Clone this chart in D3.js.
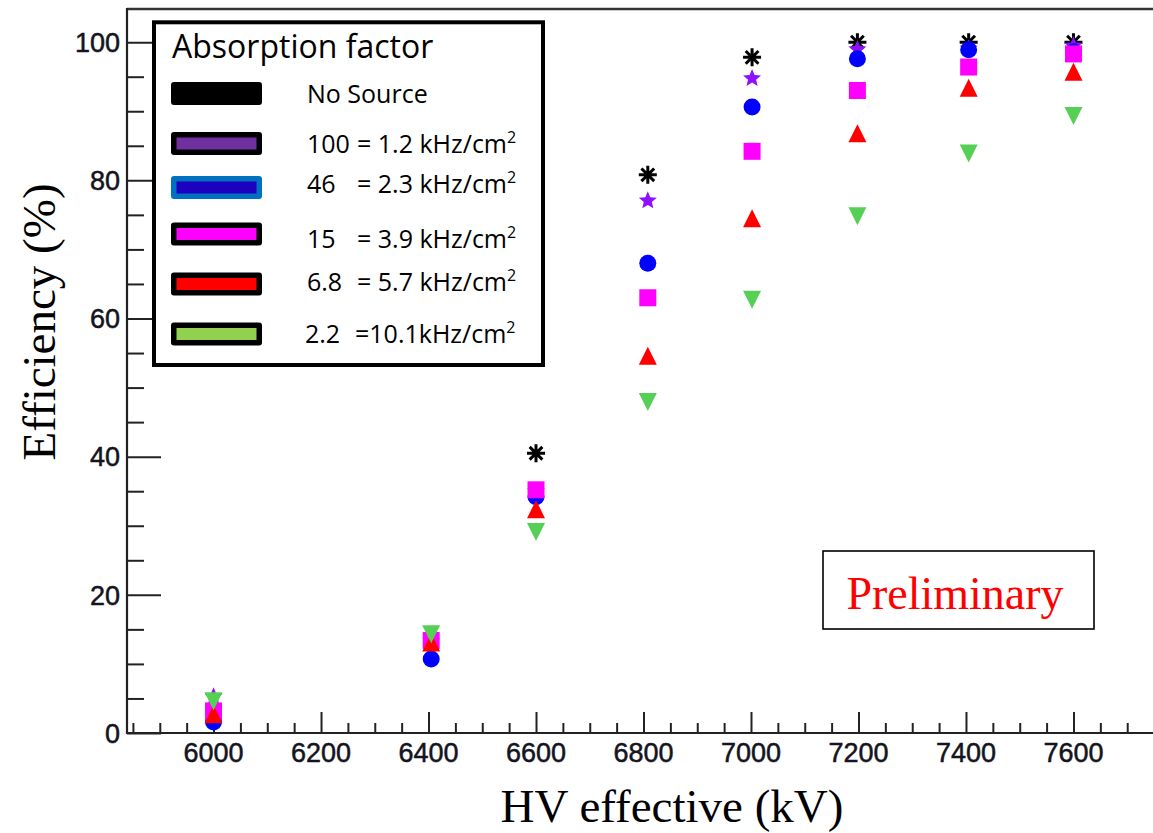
<!DOCTYPE html>
<html>
<head>
<meta charset="utf-8">
<script src="https://cdn.jsdelivr.net/npm/d3@7"></script>
<style>
  html, body { margin: 0; padding: 0; background: #fff; }
  svg { display: block; }
</style>
</head>
<body>
<svg id="chart" width="1153" height="833"></svg>
<script>
// ---------------- DATA ----------------
const hv = [6000, 6405, 6600, 6808, 7002, 7198, 7405, 7600];
const noSource = [null, null, 40.5, 80.8, 97.8, 100.0, 100.0, 100.0];
const abs100   = [5.4, 13.4, 35.1, 77.2, 94.9, 99.1, 99.2, 99.6];
const abs46    = [1.6, 10.7, 34.2, 68.0, 90.6, 97.6, 98.9, 98.6];
const abs15    = [3.2, 13.4, 35.2, 63.0, 84.2, 93.0, 96.4, 98.3];
const abs6p8   = [2.7, 13.1, 32.4, 54.6, 74.5, 86.8, 93.4, 95.7];
const abs2p2   = [4.6, 14.3, 29.1, 47.9, 62.7, 74.8, 83.9, 89.3];

const seriesNames = ["No Source", "100", "46", "15", "6.8", "2.2"];
const seriesRates = [null, "= 1.2 kHz/cm", "= 2.3 kHz/cm", "= 3.9 kHz/cm", "= 5.7 kHz/cm", "=10.1kHz/cm"];
const seriesValues = [noSource, abs100, abs46, abs15, abs6p8, abs2p2];

const xMajorTicks = [6000, 6200, 6400, 6600, 6800, 7000, 7200, 7400, 7600];
const yMajorTicks = [0, 20, 40, 60, 80, 100];

const legendTitle = "Absorption factor";
const xTitle = "HV effective (kV)";
const yTitle = "Efficiency (%)";
const stampText = "Preliminary";

// ---------------- STYLE ----------------
const markerStyle = [
  {type: "asterisk", color: "#000000", size: 18},
  {type: "star",     color: "#8f10ff", size: 18},
  {type: "circle",   color: "#0000ff", size: 17},
  {type: "square",   color: "#ff00ff", size: 17},
  {type: "triUp",    color: "#ff0000", size: 18},
  {type: "triDown",  color: "#55d055", size: 18}
];
const swatchStyle = [
  {fill: "#000000", border: "#000000"},
  {fill: "#7030a0", border: "#000000"},
  {fill: "#1e00c0", border: "#0070c0"},
  {fill: "#ff00ff", border: "#000000"},
  {fill: "#ff0000", border: "#000000"},
  {fill: "#92d050", border: "#000000"}
];
const swatchCY = [93.5, 143.5, 187.5, 234, 284, 334];
const textBaseY = [103, 153, 193, 248, 291, 343];

const svg = d3.select("#chart");

const x = d3.scaleLinear().domain([5839, 7761]).range([127, 1160]);
const y = d3.scaleLinear().domain([0, 104.8]).range([733, 9]);

const axisColor = "#222";

// frame lines
svg.append("line").attr("x1", 127).attr("x2", 1160).attr("y1", 9).attr("y2", 9)
  .attr("stroke", "#333").attr("stroke-width", 2.6);
svg.append("line").attr("x1", 127).attr("x2", 127).attr("y1", 8).attr("y2", 734)
  .attr("stroke", axisColor).attr("stroke-width", 2.2);
svg.append("line").attr("x1", 126).attr("x2", 1160).attr("y1", 733).attr("y2", 733)
  .attr("stroke", axisColor).attr("stroke-width", 2.2);

// x ticks (inside)
const xMinor = d3.range(5850, 7760, 50).filter(v => !xMajorTicks.includes(v));
const gx = svg.append("g").attr("transform", "translate(0,733)")
  .call(d3.axisBottom(x).tickValues(xMajorTicks).tickSize(-21).tickFormat(""));
gx.select(".domain").remove();
gx.selectAll(".tick line").attr("stroke", axisColor).attr("stroke-width", 2);
const gxMin = svg.append("g").attr("transform", "translate(0,733)")
  .call(d3.axisBottom(x).tickValues(xMinor).tickSize(-10).tickFormat(""));
gxMin.select(".domain").remove();
gxMin.selectAll(".tick line").attr("stroke", axisColor).attr("stroke-width", 2);

svg.append("g").selectAll("text").data(xMajorTicks).join("text")
  .attr("x", d => x(d)).attr("y", 762)
  .attr("text-anchor", "middle")
  .attr("font-family", "Liberation Sans, Arial, sans-serif")
  .attr("font-size", 27).attr("fill", "#141420")
  .attr("stroke", "#141420").attr("stroke-width", 0.5)
  .text(d => d);

// y ticks (inside)
const yMinor = d3.range(5, 105, 5).filter(v => !yMajorTicks.includes(v));
const gy = svg.append("g").attr("transform", "translate(127,0)")
  .call(d3.axisLeft(y).tickValues(yMajorTicks).tickSize(-34).tickFormat(""));
gy.select(".domain").remove();
gy.selectAll(".tick line").attr("stroke", axisColor).attr("stroke-width", 2);
const gyMin = svg.append("g").attr("transform", "translate(127,0)")
  .call(d3.axisLeft(y).tickValues(yMinor).tickSize(-17).tickFormat(""));
gyMin.select(".domain").remove();
gyMin.selectAll(".tick line").attr("stroke", axisColor).attr("stroke-width", 2);

svg.append("g").selectAll("text").data(yMajorTicks).join("text")
  .attr("x", 120).attr("y", d => y(d)).attr("dy", "0.36em")
  .attr("text-anchor", "end")
  .attr("font-family", "Liberation Sans, Arial, sans-serif")
  .attr("font-size", 27).attr("fill", "#141420")
  .attr("stroke", "#141420").attr("stroke-width", 0.5)
  .text(d => d);

// axis titles
svg.append("text").attr("x", 672).attr("y", 822).attr("text-anchor", "middle")
  .attr("font-family", "Liberation Serif, Times New Roman, serif")
  .attr("font-size", 47).attr("fill", "#000").text(xTitle);
svg.append("text").attr("transform", "translate(55,322) rotate(-90)").attr("text-anchor", "middle")
  .attr("font-family", "Liberation Serif, Times New Roman, serif")
  .attr("font-size", 47).attr("fill", "#000").text(yTitle);

// marker paths
function markerPath(type, s) {
  const h = s / 2;
  if (type === "circle") return d3.symbol(d3.symbolCircle, Math.PI * h * h)();
  if (type === "square") return `M${-h},${-h}H${h}V${h}H${-h}Z`;
  if (type === "triUp") return `M0,${-h}L${h},${h}L${-h},${h}Z`;
  if (type === "triDown") return `M0,${h}L${h},${-h}L${-h},${-h}Z`;
  if (type === "star") {
    const pts = [];
    for (let i = 0; i < 10; i++) {
      const r = i % 2 === 0 ? h * 1.05 : h * 0.47;
      const a = -Math.PI / 2 + i * Math.PI / 5;
      pts.push([r * Math.cos(a), r * Math.sin(a) + 1]);
    }
    return "M" + pts.map(p => p.join(",")).join("L") + "Z";
  }
  if (type === "asterisk") {
    let p = "";
    for (let i = 0; i < 4; i++) {
      const a = i * Math.PI / 4;
      const dx = h * Math.cos(a), dy = h * Math.sin(a);
      p += `M${-dx},${-dy}L${dx},${dy}`;
    }
    return p;
  }
}

const gm = svg.append("g");
seriesValues.forEach((vals, si) => {
  const st = markerStyle[si];
  const pts = hv.map((h, i) => ({h, v: vals[i]})).filter(d => d.v !== null);
  const g = gm.append("g");
  const sel = g.selectAll("path").data(pts).join("path")
    .attr("transform", d => `translate(${x(d.h)},${y(d.v)})`)
    .attr("d", markerPath(st.type, st.size));
  if (st.type === "asterisk") {
    sel.attr("fill", "none").attr("stroke", st.color).attr("stroke-width", 3);
    g.selectAll("circle").data(pts).join("circle")
      .attr("cx", d => x(d.h)).attr("cy", d => y(d.v)).attr("r", 3.2).attr("fill", st.color);
  } else {
    sel.attr("fill", st.color);
  }
});

// legend
const lg = svg.append("g");
lg.append("rect").attr("x", 154).attr("y", 22.3).attr("width", 389).attr("height", 342.7)
  .attr("fill", "#fff").attr("stroke", "#000").attr("stroke-width", 4);
lg.append("text").attr("x", 172).attr("y", 58)
  .attr("font-family", "Open Sans, sans-serif").attr("font-size", 32).attr("fill", "#000")
  .text(legendTitle);
seriesNames.forEach((name, i) => {
  const cy = swatchCY[i];
  const sw = swatchStyle[i];
  lg.append("rect").attr("x", 171).attr("y", cy - 11.5).attr("width", 91).attr("height", 23)
    .attr("rx", 3).attr("fill", sw.border);
  lg.append("rect").attr("x", 176.5).attr("y", cy - 6).attr("width", 80).attr("height", 12)
    .attr("fill", sw.fill);
  lg.append("text").attr("x", i === 5 ? 305 : 307).attr("y", textBaseY[i])
    .attr("font-family", "Open Sans, sans-serif").attr("font-size", 25).attr("fill", "#000")
    .text(name);
  if (seriesRates[i]) {
    const t = lg.append("text").attr("x", i === 5 ? 355 : 357).attr("y", textBaseY[i])
      .attr("font-family", "Open Sans, sans-serif").attr("font-size", 25).attr("fill", "#000");
    t.append("tspan").text(seriesRates[i]);
    t.append("tspan").attr("dy", -10).attr("font-size", 16).text("2");
  }
});

// preliminary stamp
svg.append("rect").attr("x", 823).attr("y", 551).attr("width", 271).attr("height", 78)
  .attr("fill", "#fff").attr("stroke", "#000").attr("stroke-width", 1.6);
svg.append("text").attr("x", 955).attr("y", 609).attr("text-anchor", "middle")
  .attr("font-family", "Liberation Serif, Times New Roman, serif")
  .attr("font-size", 46).attr("fill", "#ff0000").text(stampText);
</script>
</body>
</html>
